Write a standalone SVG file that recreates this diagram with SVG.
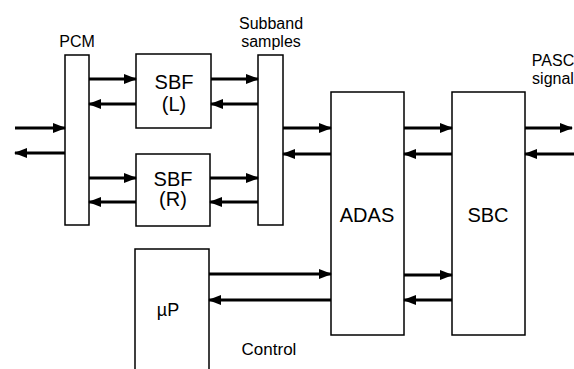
<svg xmlns="http://www.w3.org/2000/svg" width="574" height="369" viewBox="0 0 574 369">
<defs>
<style>
.box{fill:#fff;stroke:#000;stroke-width:1.5}
.ln{stroke:#000;stroke-width:3;fill:none}
.t{font-family:"Liberation Sans",Arial,sans-serif;fill:#000;text-anchor:middle}
</style>
<marker id="ah" markerWidth="13" markerHeight="10" refX="12" refY="5" orient="auto" markerUnits="userSpaceOnUse">
<path d="M0,0 L13,5 L0,10 Z" fill="#000"/>
</marker>
</defs>
<rect width="574" height="369" fill="#fff"/>
<g id="pcm">
<rect class="box" x="65" y="55" width="24" height="170"/>
<text class="t" x="77" y="47" font-size="16">PCM</text>
</g>
<g id="sbfl">
<rect class="box" x="136" y="54" width="75" height="74"/>
<text class="t" x="174" y="89" font-size="20">SBF</text>
<text class="t" x="174" y="111" font-size="20">(L)</text>
</g>
<g id="sbfr">
<rect class="box" x="136" y="154" width="74" height="72"/>
<text class="t" x="173" y="186" font-size="20">SBF</text>
<text class="t" x="173" y="206" font-size="20">(R)</text>
</g>
<g id="subband">
<rect class="box" x="258" y="55" width="25" height="170"/>
<text class="t" x="271" y="29" font-size="16">Subband</text>
<text class="t" x="271" y="47" font-size="16">samples</text>
</g>
<g id="adas">
<rect class="box" x="331" y="92" width="73" height="243"/>
<text class="t" x="367" y="222" font-size="20">ADAS</text>
</g>
<g id="sbc">
<rect class="box" x="452" y="92" width="73" height="243"/>
<text class="t" x="488" y="222" font-size="20">SBC</text>
</g>
<g id="up">
<path class="box" d="M135,372 V249 H209 V372"/>
<text class="t" x="168" y="316" font-size="18">µP</text>
</g>
<g id="labels">
<text class="t" x="553" y="66" font-size="16">PASC</text>
<text class="t" x="553" y="84" font-size="16">signal</text>
<text class="t" x="269" y="355" font-size="17">Control</text>
</g>
<g id="connectors">
<line class="ln" x1="15" y1="128" x2="65" y2="128" marker-end="url(#ah)"/>
<line class="ln" x1="65" y1="153" x2="15" y2="153" marker-end="url(#ah)"/>
<line class="ln" x1="89" y1="79" x2="136" y2="79" marker-end="url(#ah)"/>
<line class="ln" x1="136" y1="104" x2="89" y2="104" marker-end="url(#ah)"/>
<line class="ln" x1="211" y1="79" x2="258" y2="79" marker-end="url(#ah)"/>
<line class="ln" x1="258" y1="104" x2="211" y2="104" marker-end="url(#ah)"/>
<line class="ln" x1="89" y1="178" x2="136" y2="178" marker-end="url(#ah)"/>
<line class="ln" x1="136" y1="202" x2="89" y2="202" marker-end="url(#ah)"/>
<line class="ln" x1="210" y1="178" x2="258" y2="178" marker-end="url(#ah)"/>
<line class="ln" x1="258" y1="202" x2="210" y2="202" marker-end="url(#ah)"/>
<line class="ln" x1="283" y1="128" x2="331" y2="128" marker-end="url(#ah)"/>
<line class="ln" x1="331" y1="154" x2="283" y2="154" marker-end="url(#ah)"/>
<line class="ln" x1="404" y1="128" x2="452" y2="128" marker-end="url(#ah)"/>
<line class="ln" x1="452" y1="154" x2="404" y2="154" marker-end="url(#ah)"/>
<line class="ln" x1="525" y1="128" x2="572" y2="128" marker-end="url(#ah)"/>
<line class="ln" x1="576" y1="154" x2="525" y2="154" marker-end="url(#ah)"/>
<line class="ln" x1="209" y1="274" x2="331" y2="274" marker-end="url(#ah)"/>
<line class="ln" x1="331" y1="300" x2="209" y2="300" marker-end="url(#ah)"/>
<line class="ln" x1="404" y1="275" x2="452" y2="275" marker-end="url(#ah)"/>
<line class="ln" x1="452" y1="300" x2="404" y2="300" marker-end="url(#ah)"/>
</g>
</svg>
